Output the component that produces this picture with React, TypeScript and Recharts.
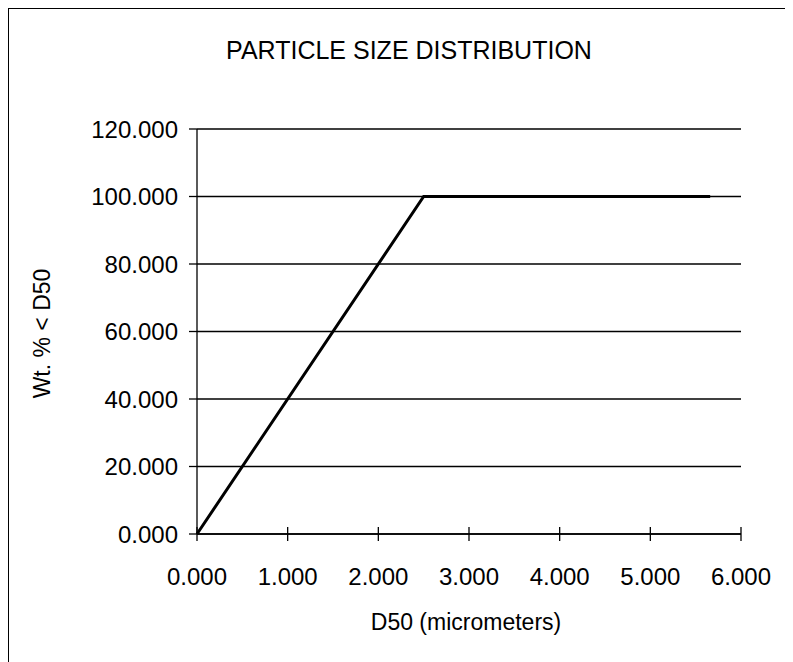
import { LineChart, Line, XAxis, YAxis, CartesianGrid, Label } from "recharts";

// D50 (micrometers) vs cumulative weight percent
const d50Values = [0, 2.5, 5.66];
const wtPercent = [0, 100, 100];
const xTicks = [0, 1, 2, 3, 4, 5, 6];
const yTicks = [0, 20, 40, 60, 80, 100, 120];

const data = d50Values.map((d, i) => ({ d50: d, wt: wtPercent[i] }));

const font = "'Liberation Sans', Arial, sans-serif";
const TICK_FONT = 24;
const X_TICK_SIZE = 7;
const X_TICK_MARGIN = 27;

const XTick = (props: any) => {
  const { x, y, payload } = props;
  const axisY = y - X_TICK_SIZE - X_TICK_MARGIN;
  return (
    <g>
      <line x1={x} x2={x} y1={axisY - 7} y2={axisY + 7} stroke="#000" strokeWidth={1.3} />
      <text x={x} y={y} dy="0.71em" textAnchor="middle" fontFamily={font} fontSize={TICK_FONT} fill="#000">
        {Number(payload.value).toFixed(3)}
      </text>
    </g>
  );
};

const YTitle = (props: any) => {
  const { viewBox } = props;
  const cx = 33;
  const cy = viewBox.y + viewBox.height / 2 + 2;
  return (
    <text
      x={cx}
      y={cy}
      transform={`rotate(-90 ${cx} ${cy})`}
      textAnchor="middle"
      dominantBaseline="central"
      fontFamily={font}
      fontSize={23}
      fill="#000"
    >
      Wt. % &lt; D50
    </text>
  );
};

const XTitle = (props: any) => {
  const { viewBox } = props;
  return (
    <text
      x={viewBox.x + viewBox.width / 2 - 3}
      y={viewBox.y + 88}
      textAnchor="middle"
      dominantBaseline="central"
      fontFamily={font}
      fontSize={23}
      fill="#000"
    >
      D50 (micrometers)
    </text>
  );
};

const App = () => {
  return (
    <div
      style={{
        position: "relative",
        width: 785,
        height: 654,
        borderLeft: "1px solid #000",
        borderTop: "1px solid #000",
        boxSizing: "border-box",
        background: "#fff",
      }}
    >
      <div
        style={{
          position: "absolute",
          left: 0,
          top: 27,
          width: 800,
          textAlign: "center",
          fontFamily: font,
          fontSize: 25,
          color: "#000",
        }}
      >
        PARTICLE SIZE DISTRIBUTION
      </div>
      <LineChart
        width={784}
        height={653}
        data={data}
        margin={{ top: 120, right: 52, left: 0, bottom: 0 }}
      >
        <CartesianGrid horizontal vertical={false} stroke="#000" strokeWidth={1.3} />
        <XAxis
          dataKey="d50"
          type="number"
          domain={[0, 6]}
          ticks={xTicks}
          height={128}
          axisLine={{ stroke: "#000", strokeWidth: 1.3 }}
          tickLine={false}
          tickSize={X_TICK_SIZE}
          tickMargin={X_TICK_MARGIN}
          tick={<XTick />}
          interval={0}
        >
          <Label content={<XTitle />} />
        </XAxis>
        <YAxis
          type="number"
          domain={[0, 120]}
          ticks={yTicks}
          width={188}
          axisLine={{ stroke: "#000", strokeWidth: 1.3 }}
          tickLine={{ stroke: "#000", strokeWidth: 1.3 }}
          tickSize={8}
          tickMargin={11}
          tick={{ fill: "#000", fontSize: TICK_FONT, fontFamily: font }}
          tickFormatter={(v: number) => v.toFixed(3)}
          interval={0}
        >
          <Label content={<YTitle />} />
        </YAxis>
        <Line
          type="linear"
          dataKey="wt"
          stroke="#000"
          strokeWidth={3}
          dot={false}
          isAnimationActive={false}
        />
      </LineChart>
    </div>
  );
};

export default App;
